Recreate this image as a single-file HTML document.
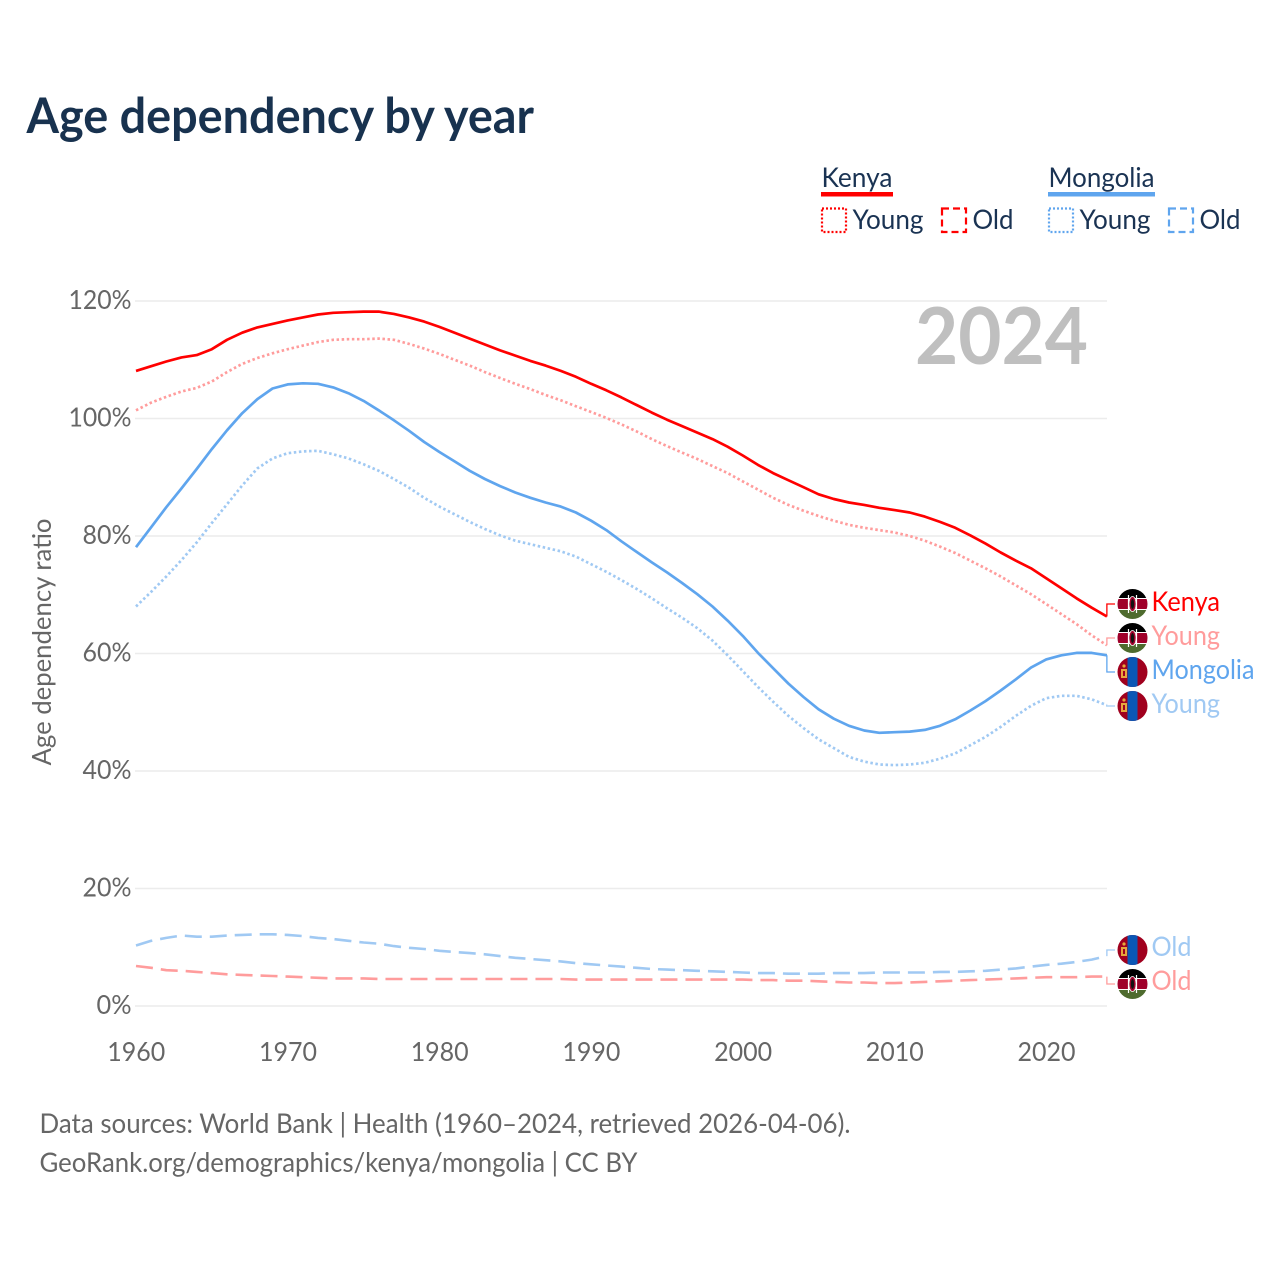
<!DOCTYPE html>
<html lang="en">
<head>
<meta charset="utf-8">
<title>Age dependency by year</title>
<style>
html,body{margin:0;padding:0;background:#fff;}
svg{display:block;}
text{font-family:"Lato","Carlito","Liberation Sans",sans-serif;}
.tick{font-size:26.5px;fill:#666;}
.foot{font-size:27px;fill:#666;}
.leg{font-size:27.5px;fill:#1a3353;}
.lab{font-size:27.5px;}
</style>
</head>
<body>
<svg id="chart" xmlns="http://www.w3.org/2000/svg" width="1280" height="1280" viewBox="0 0 1280 1280">
<rect x="0" y="0" width="1280" height="1280" fill="#fff"/>
<text x="26.5" y="133" font-size="49" font-weight="700" fill="#18324f" textLength="507.5" lengthAdjust="spacingAndGlyphs">Age dependency by year</text>

<g>
<text class="leg" x="821.5" y="187" textLength="71" lengthAdjust="spacingAndGlyphs">Kenya</text>
<rect x="821" y="192" width="72" height="4.5" fill="#ff0000"/>
<rect x="822" y="208.5" width="24" height="23.5" fill="none" stroke="#ff0000" stroke-width="2.2" stroke-dasharray="2 2"/>
<text class="leg" x="852.5" y="229" textLength="71" lengthAdjust="spacingAndGlyphs">Young</text>
<rect x="942" y="208.5" width="24" height="23.5" fill="none" stroke="#ff0000" stroke-width="2.2" stroke-dasharray="7 4"/>
<text class="leg" x="972.5" y="229" textLength="41" lengthAdjust="spacingAndGlyphs">Old</text>
<text class="leg" x="1048.5" y="187" textLength="106" lengthAdjust="spacingAndGlyphs">Mongolia</text>
<rect x="1048" y="192" width="107" height="4.5" fill="#5fa5ee"/>
<rect x="1049" y="208.5" width="24" height="23.5" fill="none" stroke="#5fa5ee" stroke-width="2.2" stroke-dasharray="2 2"/>
<text class="leg" x="1079.5" y="229" textLength="71" lengthAdjust="spacingAndGlyphs">Young</text>
<rect x="1169" y="208.5" width="24" height="23.5" fill="none" stroke="#5fa5ee" stroke-width="2.2" stroke-dasharray="7 4"/>
<text class="leg" x="1199.5" y="229" textLength="41" lengthAdjust="spacingAndGlyphs">Old</text>
</g>

<g id="grid"></g>
<g id="yticks"></g>
<g id="xticks"></g>
<text x="915" y="364" font-size="79" font-weight="700" fill="#bfbfbf" textLength="173" lengthAdjust="spacingAndGlyphs">2024</text>
<text transform="translate(51,642) rotate(-90)" text-anchor="middle" font-size="26.5" fill="#666" textLength="247" lengthAdjust="spacingAndGlyphs">Age dependency ratio</text>
<g id="series"></g>
<g id="labels"></g>

<text class="foot" x="39.5" y="1133" textLength="811" lengthAdjust="spacingAndGlyphs">Data sources: World Bank | Health (1960–2024, retrieved 2026-04-06).</text>
<text class="foot" x="39.5" y="1172" textLength="598" lengthAdjust="spacingAndGlyphs">GeoRank.org/demographics/kenya/mongolia | CC BY</text>
</svg>

<script>
const startYear = 1960;
const yTickValues = [0, 20, 40, 60, 80, 100, 120];
const xTickValues = [1960, 1970, 1980, 1990, 2000, 2010, 2020];

const kenyaTotal = [108.1,108.9,109.7,110.4,110.8,111.8,113.4,114.6,115.5,116.1,116.7,117.2,117.7,118.0,118.1,118.2,118.2,117.8,117.2,116.5,115.6,114.6,
113.6,112.6,111.6,110.7,109.8,109.0,108.1,107.1,105.9,104.8,103.6,102.3,101.0,99.8,98.7,97.6,96.5,95.2,93.7,92.1,90.7,
89.5,88.3,87.1,86.3,85.7,85.3,84.8,84.4,84.0,83.3,82.4,81.4,80.1,78.7,77.2,75.8,74.5,72.8,71.1,69.4,67.8,66.3];

const kenyaYoung = [101.4,102.7,103.7,104.6,105.2,106.3,107.9,109.3,110.3,111.1,111.8,112.4,113.0,113.4,113.5,113.5,113.6,113.4,112.7,111.9,111.0,110.0,
109.0,107.9,106.9,105.9,105.0,104.0,103.1,102.1,101.1,100.1,99.0,97.8,96.5,95.3,94.2,93.1,91.9,90.7,89.3,87.9,86.5,
85.3,84.3,83.4,82.6,81.9,81.4,81.0,80.6,80.0,79.2,78.2,77.1,75.8,74.5,73.1,71.6,70.1,68.4,66.7,65.0,63.1,61.4];

const kenyaOld = [6.8,6.5,6.1,6.0,5.8,5.6,5.4,5.3,5.2,5.1,5.0,4.9,4.8,4.7,4.7,4.7,4.6,
4.6,4.6,4.6,4.6,4.6,4.6,4.6,4.6,4.6,4.6,4.6,4.6,4.5,4.5,4.5,4.5,4.5,4.5,4.5,4.5,4.5,4.5,4.5,4.5,
4.4,4.4,4.3,4.3,4.2,4.1,4.0,4.0,3.9,3.9,4.0,4.1,4.2,4.3,4.4,4.5,4.6,4.7,4.8,4.9,4.9,4.9,5.0,5.0];

const mongoliaTotal = [78.1,81.5,84.9,88.1,91.4,94.8,98.0,100.9,103.3,105.1,105.8,106.0,105.9,105.3,104.3,103.0,101.4,99.7,97.9,96.0,94.3,92.7,
91.1,89.7,88.5,87.4,86.5,85.7,85.0,84.0,82.6,81.0,79.1,77.3,75.5,73.8,72.0,70.1,68.0,65.6,63.0,60.1,57.5,
54.9,52.6,50.5,48.9,47.7,46.9,46.5,46.6,46.7,47.0,47.7,48.8,50.3,51.9,53.7,55.6,57.6,59.0,59.7,60.1,60.1,59.7];

const mongoliaYoung = [68.0,70.5,73.1,75.9,78.9,82.2,85.4,88.6,91.5,93.2,94.1,94.4,94.5,93.9,93.2,92.2,91.1,89.7,88.2,86.5,85.0,83.7,
82.4,81.2,80.1,79.2,78.6,78.0,77.4,76.5,75.2,73.9,72.5,71.0,69.4,67.7,66.1,64.3,62.2,59.7,57.0,54.3,51.8,
49.4,47.3,45.4,43.9,42.4,41.6,41.1,41.0,41.1,41.4,42.1,43.0,44.4,45.8,47.5,49.4,51.1,52.4,52.8,52.8,52.2,51.2];

const mongoliaOld = [10.3,11.1,11.6,12.0,11.8,11.8,12.0,12.1,12.2,12.2,12.1,11.9,11.6,11.4,11.1,10.8,10.6,10.2,9.9,9.7,9.4,9.2,9.0,8.8,8.5,8.2,8.0,
7.8,7.6,7.3,7.1,6.9,6.7,6.5,6.3,6.2,6.1,6.0,5.9,5.8,5.7,5.6,5.6,5.5,5.5,5.5,5.6,5.6,5.6,5.7,5.7,5.7,5.7,5.8,5.8,5.9,6.0,6.2,6.4,6.7,7.0,7.2,7.5,7.9,8.5];

const NS = 'http://www.w3.org/2000/svg';
const xOf = function (year) { return 136 + (year - startYear) * 15.17; };
const yOf = function (value) { return 1006 - value * 5.875; };

function el(parent, tag, attrs, content) {
  const node = document.createElementNS(NS, tag);
  for (const key in attrs) { node.setAttribute(key, attrs[key]); }
  if (content !== undefined) { node.textContent = content; }
  parent.appendChild(node);
  return node;
}

const gridG = document.getElementById('grid');


const yTickG = document.getElementById('yticks');


const xTickG = document.getElementById('xticks');


const seriesG = document.getElementById('series');


const labelG = document.getElementById('labels');



yTickValues.forEach(function (v) {
  const y = yOf(v);
  const line = el(gridG, 'line', {x1: 135, x2: 1107, y1: y, y2: y, stroke: '#ececec', 'stroke-width': 1.5});
  
  
  const digits = String(v).length;
  const t = el(yTickG, 'text', {x: 131.5, y: y + 8, 'text-anchor': 'end', 'class': 'tick', textLength: digits === 3 ? 63 : (digits === 2 ? 49 : 35), lengthAdjust: 'spacingAndGlyphs'}, v + '%');
  
  
});

xTickValues.forEach(function (yr) {
  const t = el(xTickG, 'text', {x: xOf(yr) + 0.3, y: 1061, 'text-anchor': 'middle', 'class': 'tick', textLength: 58, lengthAdjust: 'spacingAndGlyphs'}, String(yr));
  
  
});

function kenyaFlag(cx, cy, name) {
  const id = 'clip-' + name;
  const defs = el(labelG, 'defs', {});
  const cp = el(defs, 'clipPath', {id: id});
  el(cp, 'circle', {cx: cx, cy: cy, r: 15});
  const g = el(labelG, 'g', {'clip-path': 'url(#' + id + ')'});
  
  
  el(g, 'rect', {x: cx - 15, y: cy - 15, width: 30, height: 30, fill: '#fff'});
  el(g, 'rect', {x: cx - 15, y: cy - 15, width: 30, height: 9, fill: '#000'});
  el(g, 'rect', {x: cx - 15, y: cy - 5, width: 30, height: 10, fill: '#a0002a'});
  el(g, 'rect', {x: cx - 15, y: cy + 6, width: 30, height: 9, fill: '#4e6b2e'});
  el(g, 'line', {x1: cx - 4, y1: cy - 9, x2: cx - 4, y2: cy + 9, stroke: '#fff', 'stroke-width': 1.2});
  el(g, 'line', {x1: cx + 4, y1: cy - 9, x2: cx + 4, y2: cy + 9, stroke: '#fff', 'stroke-width': 1.2});
  el(g, 'ellipse', {cx: cx, cy: cy, rx: 3.6, ry: 7.5, fill: '#a0002a', stroke: '#fff', 'stroke-width': 0.8});
  el(g, 'ellipse', {cx: cx, cy: cy, rx: 1.6, ry: 5, fill: '#111'});
}

function mongoliaFlag(cx, cy, name) {
  const id = 'clip-' + name;
  const defs = el(labelG, 'defs', {});
  const cp = el(defs, 'clipPath', {id: id});
  el(cp, 'circle', {cx: cx, cy: cy, r: 15});
  const g = el(labelG, 'g', {'clip-path': 'url(#' + id + ')'});
  
  
  el(g, 'rect', {x: cx - 15, y: cy - 15, width: 30, height: 30, fill: '#a0001e'});
  el(g, 'rect', {x: cx - 5, y: cy - 15, width: 10, height: 30, fill: '#0b57b5'});
  el(g, 'rect', {x: cx - 11.5, y: cy - 3, width: 6, height: 9, fill: '#e6a83c'});
  el(g, 'circle', {cx: cx - 8.5, cy: cy - 6, r: 1.6, fill: '#e6a83c'});
  el(g, 'rect', {x: cx - 9.5, y: cy - 1, width: 2, height: 5, fill: '#a0001e'});
}

const seriesList = [
  {key: 'mongolia-old',   values: mongoliaOld,   color: '#a0c9f3', dash: '17 8', width: 2.6, text: 'Old',      cy: 950, ty: 956, len: 40,  flag: mongoliaFlag},
  {key: 'kenya-old',      values: kenyaOld,      color: '#ff9c9c', dash: '17 8', width: 2.6, text: 'Old',      cy: 984, ty: 990, len: 40,  flag: kenyaFlag},
  {key: 'mongolia-young', values: mongoliaYoung, color: '#a0c9f3', dash: '2.5 2.6', width: 2.7, text: 'Young',    cy: 706, ty: 713, len: 68.5,  flag: mongoliaFlag},
  {key: 'kenya-young',    values: kenyaYoung,    color: '#ff9c9c', dash: '2.5 2.6', width: 2.7, text: 'Young',    cy: 638, ty: 645, len: 68.5,  flag: kenyaFlag},
  {key: 'mongolia-total', values: mongoliaTotal, color: '#5fa5ee', dash: '',     width: 2.7, text: 'Mongolia', cy: 672, ty: 679, len: 103, flag: mongoliaFlag},
  {key: 'kenya-total',    values: kenyaTotal,    color: '#ff0000', dash: '',     width: 2.7, text: 'Kenya',    cy: 604, ty: 611, len: 68.5,  flag: kenyaFlag}
];

seriesList.forEach(function (s) {
  const pts = s.values.map(function (v, i) { return xOf(startYear + i).toFixed(1) + ',' + yOf(v).toFixed(1); }).join(' ');
  const line = el(seriesG, 'polyline', {points: pts, fill: 'none', stroke: s.color, 'stroke-width': s.width, 'stroke-linejoin': 'round', 'stroke-dasharray': s.dash});
  
  

  const lastYear = startYear + s.values.length - 1;
  const ex = xOf(lastYear);
  const ey = yOf(s.values[s.values.length - 1]);
  const leader = el(labelG, 'polyline', {points: ex + ',' + ey + ' ' + ex + ',' + s.cy + ' 1115,' + s.cy, fill: 'none', stroke: s.color, 'stroke-width': 1.3});
  
  

  s.flag(1132.5, s.cy, 'flag-' + s.key);

  const label = el(labelG, 'text', {x: 1151.5, y: s.ty, 'class': 'lab', fill: s.color, textLength: s.len, lengthAdjust: 'spacingAndGlyphs'}, s.text);
  
  
});
</script>
</body>
</html>
